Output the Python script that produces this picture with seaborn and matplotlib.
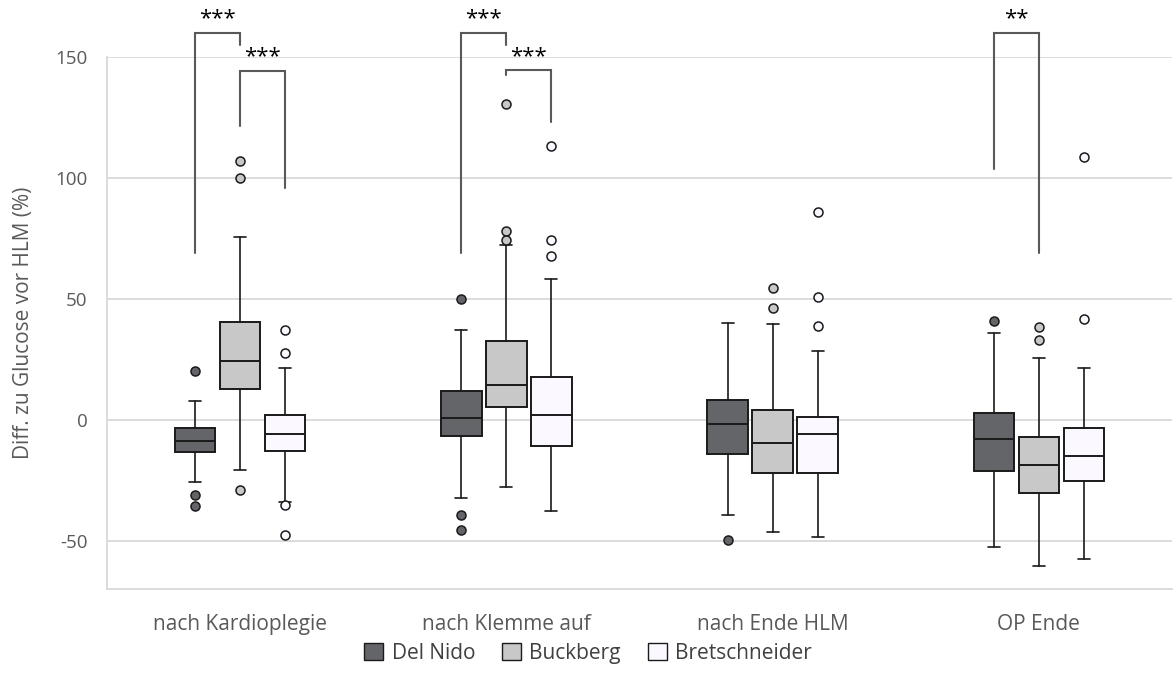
import matplotlib
matplotlib.use("Agg")
import matplotlib.pyplot as plt
import seaborn as sns
from matplotlib.patches import Patch

# ---------------- data ----------------
categories = ["nach Kardioplegie", "nach Klemme auf", "nach Ende HLM", "OP Ende"]
groups = ["Del Nido", "Buckberg", "Bretschneider"]
colors = ["#636569", "#c8c8c8", "#fbf9ff"]

# per group: list over categories of (whislo, q1, med, q3, whishi)
del_nido_stats = [(-25.6, -13.3, -9.0, -3.6, 7.8),
                  (-32.5, -6.9, 0.5, 11.7, 36.9),
                  (-39.3, -14.0, -1.7, 8.0, 39.8),
                  (-52.6, -21.3, -7.9, 2.9, 35.7)]
buckberg_stats = [(-20.6, 12.7, 24.3, 40.2, 75.4),
                  (-27.9, 5.4, 14.2, 32.7, 72.2),
                  (-46.3, -22.1, -9.7, 4.1, 39.4),
                  (-60.6, -30.3, -18.8, -7.3, 25.7)]
bretschneider_stats = [(-33.9, -13.1, -5.8, 1.8, 21.4),
                       (-37.6, -10.9, 2.1, 17.6, 58.1),
                       (-48.5, -21.9, -5.8, 1.2, 28.6),
                       (-57.4, -25.4, -15.2, -3.6, 21.3)]

del_nido_out = [[20.2, -31.1, -35.7], [49.7, -39.4, -45.4], [-49.8], [41.0]]
buckberg_out = [[107.0, 100.1, -29.2], [130.6, 78.0, 74.3], [54.5, 46.2], [38.5, 32.9]]
bretschneider_out = [[36.9, 27.7, -35.3, -47.6], [113.3, 74.4, 67.5],
                     [85.9, 50.6, 38.7], [108.6, 41.8]]

# significance brackets: (category, group_a, group_b, top, leg_a_end, leg_b_end, label)
brackets = [(0, 0, 1, 159.9, 68.8, 155.0, "***"),
            (0, 1, 2, 144.0, 121.2, 95.6, "***"),
            (1, 0, 1, 159.9, 68.8, 154.8, "***"),
            (1, 1, 2, 144.4, 142.3, 122.9, "***"),
            (3, 0, 1, 159.9, 103.6, 68.8, "**")]

yticks = [-50, 0, 50, 100, 150]
ylabel = "Diff. zu Glucose vor HLM (%)"

# ---------------- plot ----------------
sns.set_theme(style="white")
plt.rcParams["font.family"] = ["Open Sans", "DejaVu Sans"]
plt.rcParams["axes.unicode_minus"] = False

fig = plt.figure(figsize=(11.76, 6.93), dpi=100)
ax = fig.add_axes([0.091, 0.150, 0.9056, 0.768])

offsets = [-0.169, 0.0, 0.169]
width = 0.152
all_stats = [del_nido_stats, buckberg_stats, bretschneider_stats]
all_out = [del_nido_out, buckberg_out, bretschneider_out]

for gi in range(3):
    stats = []
    for ci in range(len(categories)):
        lo, q1, med, q3, hi = all_stats[gi][ci]
        stats.append(dict(whislo=lo, q1=q1, med=med, q3=q3, whishi=hi,
                          fliers=all_out[gi][ci], label=categories[ci]))
    pos = [ci + offsets[gi] for ci in range(len(categories))]
    ax.bxp(stats, positions=pos, widths=width, patch_artist=True,
           showfliers=True, manage_ticks=False,
           boxprops=dict(facecolor=colors[gi], edgecolor="#1a1a1a", linewidth=1.4),
           medianprops=dict(color="#1a1a1a", linewidth=1.4),
           whiskerprops=dict(color="#1a1a1a", linewidth=1.2),
           capprops=dict(color="#1a1a1a", linewidth=1.2),
           capwidths=width * 0.3,
           flierprops=dict(marker="o", markerfacecolor=colors[gi],
                           markeredgecolor="#1a1a1a", markersize=6.5,
                           markeredgewidth=1.1, linestyle="none"))

ax.set_xlim(-0.5, len(categories) - 0.5)
ax.set_ylim(-70, 150)
ax.set_yticks(yticks)
ax.set_yticklabels([str(t) for t in yticks])
ax.set_xticks(range(len(categories)))
ax.set_xticklabels(categories)
ax.yaxis.grid(True, color="#d9d9d9", linewidth=1.3)
ax.set_axisbelow(True)
for s in ["top", "right"]:
    ax.spines[s].set_visible(False)
for s in ["left", "bottom"]:
    ax.spines[s].set_color("#d9d9d9")
    ax.spines[s].set_linewidth(1.3)
ax.tick_params(axis="y", length=0, pad=14, labelsize=13.5, labelcolor="#595959")
ax.tick_params(axis="x", length=0, pad=18, labelsize=15, labelcolor="#595959")
ax.set_ylabel(ylabel, fontsize=15, color="#595959", labelpad=15)

for ci, ga, gb, top, ea, eb, lab in brackets:
    xa = ci + offsets[ga]
    xb = ci + offsets[gb]
    ax.plot([xa, xa, xb, xb], [ea, top, top, eb], color="#595959",
            linewidth=1.5, clip_on=False, solid_joinstyle="miter")
    ax.text((xa + xb) / 2, top + 1.5, lab, ha="center", va="bottom",
            fontsize=16, color="black", clip_on=False)

handles = [Patch(facecolor=c, edgecolor="#1a1a1a", linewidth=1.0) for c in colors]
fig.legend(handles, groups, loc="center", bbox_to_anchor=(0.5, 0.057), ncol=3,
           frameon=False, fontsize=15, handlelength=0.9, handleheight=0.9,
           handletextpad=0.4, columnspacing=1.3, labelcolor="#404040")

fig.savefig("out.png", dpi=100)
